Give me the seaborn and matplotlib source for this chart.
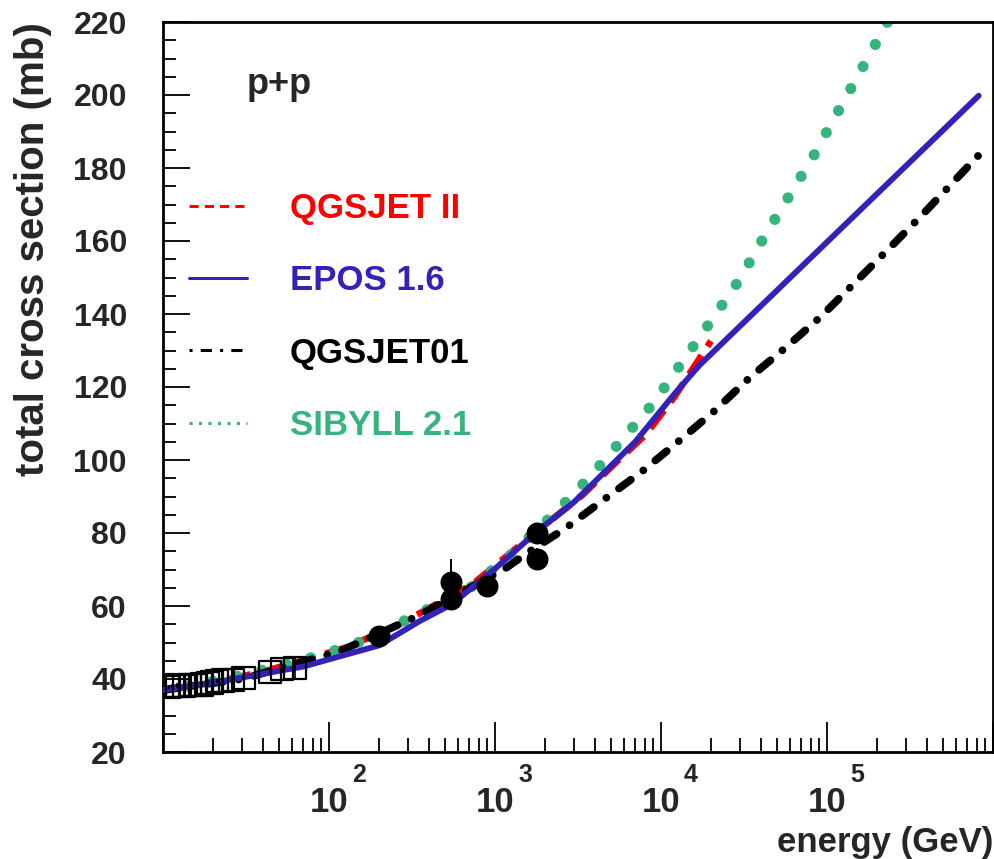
import numpy as np
import pandas as pd
import matplotlib
matplotlib.use("Agg")
import matplotlib.pyplot as plt
from matplotlib.lines import Line2D
from matplotlib.ticker import LogLocator, MultipleLocator, FixedLocator, NullFormatter
import seaborn as sns

# ---------------- data ----------------
qgsjet2_e = [10, 20, 40, 72, 126, 264, 730, 1400, 3380, 5340, 8100, 12000, 20000]
qgsjet2_s = [36.8, 39.0, 42.0, 45.3, 48.6, 54.9, 65.9, 76.5, 90.5, 99.3, 107.0, 117.2, 132.6]

epos_e = [10, 20, 70, 200, 350, 550, 1000, 1800, 3000, 7000, 12000, 17000, 100000, 820000]
epos_s = [37.0, 39.0, 43.4, 49.2, 55.8, 60.5, 70.2, 80.5, 88.5, 105.0, 118.0, 125.9, 159.7, 199.8]

qgsjet01_e = [10, 30, 115, 340, 1130, 1570, 2660, 4480, 7610, 12600, 20800, 34300,
              56000, 92000, 148000, 236000, 379000, 600000, 820000]
qgsjet01_s = [37.0, 40.0, 47.5, 57.2, 70.0, 74.6, 81.3, 89.0, 96.7, 104.9, 113.3, 122.6,
              130.7, 139.3, 148.7, 157.9, 167.4, 177.0, 183.5]

sibyll_e = [10, 28, 91, 169, 295, 700, 1160, 2360, 3770, 5860, 9080, 13400, 19900,
            29800, 42000, 60200, 86300, 101000, 202000, 300000]
sibyll_s = [36.8, 40.7, 46.6, 50.8, 56.3, 64.8, 72.7, 86.0, 95.6, 105.7, 115.8, 126.8, 137.9,
            149.5, 161.3, 172.9, 184.6, 190.4, 215.0, 229.5]

# open squares (low-energy data)
sq_e = [10.8, 11.4, 12.2, 13.4, 14.6, 15.8, 17.2, 18.6, 19.8, 21.2, 23.0, 26.5, 30.5, 44.2, 52.0, 62.4]
sq_s = [37.8, 38.0, 38.2, 38.0, 38.4, 38.3, 38.5, 38.9, 39.0, 39.4, 39.6, 39.8, 40.3, 42.0, 42.8, 43.0]
sq_err = [0.6, 0.6, 0.6, 0.6, 0.6, 0.6, 0.6, 0.6, 0.6, 0.6, 0.6, 0.6, 0.6, 1.0, 1.2, 3.0]

# filled circles (collider data)
circ_e = [200, 546, 546, 900, 1800, 1800]
circ_s = [51.7, 61.9, 66.7, 65.4, 72.8, 80.0]
circ_err = [1.1, 1.5, 6.2, 1.0, 3.0, 2.3]

model_names = ["QGSJET II", "EPOS 1.6", "QGSJET01", "SIBYLL 2.1"]
model_colors = ["#ff0000", "#3322b8", "#000000", "#35b47e"]

y_ticks = [20, 40, 60, 80, 100, 120, 140, 160, 180, 200, 220]
y_tick_labels = [str(v) for v in y_ticks]
x_tick_exponents = [2, 3, 4, 5]

# ---------------- style ----------------
sns.set_style("ticks")
plt.rcParams["font.family"] = ["Liberation Sans", "DejaVu Sans"]
plt.rcParams["font.weight"] = "bold"

fig = plt.figure(figsize=(9.95, 8.59), dpi=100)
ax = fig.add_axes([163 / 995, 1 - 752 / 859, 830 / 995, 730 / 859])

red, blue, black, green = model_colors

sns.lineplot(x=qgsjet2_e, y=qgsjet2_s, ax=ax, color=red, lw=4.8,
             linestyle=(0, (3.4, 1.6)), estimator=None, sort=False, zorder=2)
sns.lineplot(x=sibyll_e, y=sibyll_s, ax=ax, color=green, lw=8.0,
             linestyle=(0, (0.01, 2.26)), dash_capstyle="round",
             estimator=None, sort=False, zorder=2.5)
sns.lineplot(x=qgsjet01_e, y=qgsjet01_s, ax=ax, color=black, lw=5.6,
             linestyle=(0, (1.9, 2.0, 0.01, 2.0)), dash_capstyle="round",
             estimator=None, sort=False, zorder=3)
sns.lineplot(x=epos_e, y=epos_s, ax=ax, color=blue, lw=4.2,
             estimator=None, sort=False, zorder=4)

# data points
ax.errorbar(sq_e, sq_s, yerr=sq_err, fmt="none", ecolor="black", elinewidth=1.2,
            capsize=0, zorder=5)
sns.scatterplot(x=sq_e, y=sq_s, ax=ax, marker="s", s=260, facecolor="none",
                edgecolor="black", linewidth=1.6, zorder=5)
ax.errorbar(circ_e, circ_s, yerr=circ_err, fmt="none", ecolor="black", elinewidth=1.4,
            capsize=0, zorder=6)
sns.scatterplot(x=circ_e, y=circ_s, ax=ax, marker="o", s=250, color="black",
                edgecolor="black", linewidth=0, zorder=6)

# ---------------- axes ----------------
ax.set_xscale("log")
ax.set_xlim(10, 1e6)
ax.set_ylim(20, 220)
ax.xaxis.set_major_locator(FixedLocator([10.0 ** k for k in range(1, 7)]))
ax.xaxis.set_minor_locator(LogLocator(base=10, subs=np.arange(2, 10), numticks=30))
ax.xaxis.set_major_formatter(NullFormatter())
ax.xaxis.set_minor_formatter(NullFormatter())
ax.set_yticks(y_ticks, labels=y_tick_labels)
ax.yaxis.set_minor_locator(MultipleLocator(5))
ax.set_xlabel("")
ax.set_ylabel("")

ax.tick_params(axis="both", which="both", direction="in", top=False, right=False,
               color="black")
ax.tick_params(axis="y", which="major", length=19.5, width=1.3, pad=26, labelsize=23)
ax.tick_params(axis="y", which="minor", length=9.5, width=1.3)
ax.tick_params(axis="x", which="major", length=21.6, width=1.3)
ax.tick_params(axis="x", which="minor", length=10, width=1.3)
for lab in ax.get_yticklabels():
    lab.set_fontweight("bold")

for s in ax.spines.values():
    s.set_visible(True)
    s.set_linewidth(2.0)
    s.set_color("black")

# x tick labels as 10 + raised exponent
for k in x_tick_exponents:
    ax.annotate("10", xy=(10.0 ** k, 0), xycoords=("data", "axes fraction"),
                xytext=(0, -43.2), textcoords="offset points",
                ha="center", va="baseline", fontsize=25, fontweight="bold")
    ax.annotate(str(k), xy=(10.0 ** k, 0), xycoords=("data", "axes fraction"),
                xytext=(16.6, -21.6), textcoords="offset points",
                ha="left", va="baseline", fontsize=18, fontweight="bold")

# axis titles
fig.text(0.033, 0.974, "total cross section (mb)", rotation=90, ha="center", va="top",
         fontsize=29, fontweight="bold")
fig.text(0.998, 0.0081, "energy (GeV)", ha="right", va="baseline",
         fontsize=25, fontweight="bold")

ax.text(0.101, 0.901, "p+p", transform=ax.transAxes, fontsize=26, fontweight="bold",
        ha="left", va="baseline")

# legend
handles = [
    Line2D([], [], color=red, lw=2.2, linestyle=(0, (3, 2))),
    Line2D([], [], color=blue, lw=2.2, linestyle="-"),
    Line2D([], [], color=black, lw=2.2, linestyle=(0, (1, 2.67, 3.67, 2.67))),
    Line2D([], [], color=green, lw=2.2, linestyle=(0, (1, 2.1))),
]
ax.legend(handles, model_names, loc="upper left", bbox_to_anchor=(0.0313, 0.767),
          frameon=False, prop={"weight": "bold", "size": 25},
          handlelength=1.67, handletextpad=1.24, labelspacing=1.13,
          borderpad=0, borderaxespad=0, labelcolor=model_colors)

fig.savefig("out.png", dpi=100)
